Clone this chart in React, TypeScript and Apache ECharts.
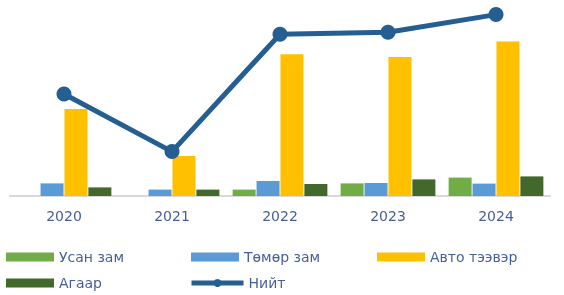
import React, { useEffect, useRef } from "react";
import * as echarts from "echarts";

const years = ["2020", "2021", "2022", "2023", "2024"];
const water = [0, 0, 3.2, 6.3, 9.2];
const rail = [6.3, 3.2, 7.5, 6.5, 6.2];
const road = [43.5, 20.0, 70.9, 69.5, 77.2];
const air = [4.3, 3.2, 6.0, 8.3, 9.8];
const total = [51.0, 22.2, 80.9, 81.9, 90.7];

const names = ["Усан зам", "Төмөр зам", "Авто тээвэр", "Агаар", "Нийт"];
const colors = ["#70AD47", "#5B9BD5", "#FFC000", "#43682B", "#255E91"];

const textColor = "#465F9A";
const font = "DejaVu Sans";

export default function App() {
  const ref = useRef<HTMLDivElement>(null);
  useEffect(() => {
    if (!ref.current) return;
    const chart = echarts.init(ref.current, undefined, { renderer: "svg" });
    const legendPos = [
      { left: 6, top: 250 },
      { left: 191, top: 250 },
      { left: 377, top: 250 },
      { left: 6, top: 276 },
      { left: 189, top: 276 },
    ];
    const legends = names.map((n, i) => ({
      data: [n],
      left: legendPos[i].left,
      top: legendPos[i].top,
      itemWidth: i === 4 ? 52 : 48,
      itemHeight: i === 4 ? 10 : 9,
      itemGap: 0,
      padding: 0,
      icon: i === 4 ? undefined : "rect",
      lineStyle: i === 4 ? { width: 5, color: colors[4] } : undefined,
      textStyle: { color: textColor, fontSize: 14, fontFamily: font },
    }));
    const barData = [water, rail, road, air];
    chart.setOption({
      animation: false,
      legend: legends,
      grid: { left: 10, right: 14, top: 10, bottom: 99 },
      xAxis: {
        type: "category",
        data: years,
        axisLine: { lineStyle: { color: "#D9D9D9", width: 2 } },
        axisTick: { show: false },
        axisLabel: { color: textColor, fontSize: 14, fontFamily: font, margin: 13 },
      },
      yAxis: [
        { type: "value", min: 0, max: 93, show: false, splitLine: { show: false } },
        { type: "value", min: 0, max: 93, show: false, splitLine: { show: false } },
      ],
      series: [
        ...barData.map((d, i) => ({
          name: names[i],
          type: "bar",
          data: d,
          barWidth: 23,
          barGap: "4%",
          itemStyle: { color: colors[i] },
        })),
        {
          name: names[4],
          type: "line",
          yAxisIndex: 1,
          data: total,
          symbol: "circle",
          symbolSize: 15,
          lineStyle: { color: colors[4], width: 5 },
          itemStyle: { color: colors[4] },
        },
      ],
    });
    return () => chart.dispose();
  }, []);
  return (
    <div
      ref={ref}
      style={{ position: "fixed", left: 0, top: 0, width: 564, height: 295 }}
    />
  );
}
